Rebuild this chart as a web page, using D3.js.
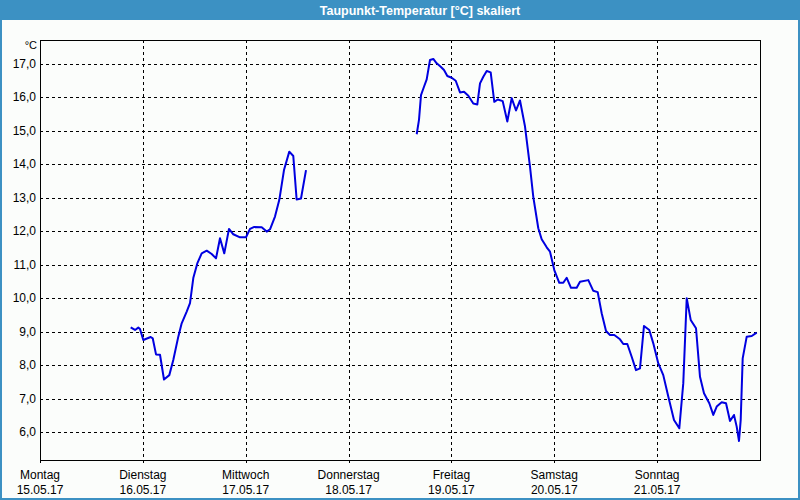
<!DOCTYPE html>
<html>
<head>
<meta charset="utf-8">
<script src="https://cdn.jsdelivr.net/npm/d3@7/dist/d3.min.js"></script>
<style>
html,body{margin:0;padding:0;background:#fbfdfb;}
svg{display:block;}
</style>
</head>
<body>
<script>
const title = "Taupunkt-Temperatur [°C] skaliert";
const unitLabel = "°C";
const dayNames = ["Montag","Dienstag","Mittwoch","Donnerstag","Freitag","Samstag","Sonntag"];
const dayDates = ["15.05.17","16.05.17","17.05.17","18.05.17","19.05.17","20.05.17","21.05.17"];
const yTicks = [6,7,8,9,10,11,12,13,14,15,16,17];
// hours since Montag 15.05.17 00:00 ; null marks a gap in the record
const hours = [21.16,22.17,22.94,23.33,24.10,25.83,26.30,27.07,28.0,28.93,30.17,31.10,32.27,33.06,34.23,35.0,35.77,36.70,37.73,38.90,40.06,41.07,42.0,43.0,44.1,45.1,46.67,48.07,49.0,50.0,51.73,52.9,53.67,54.83,55.84,56.93,58.17,59.1,59.88,60.9,62.07,
  75.0,
  87.9,88.43,88.9,89.6,90.23,91.0,91.77,92.56,93.5,94.27,95.04,96.06,97.0,98.0,98.93,99.94,101.1,102.04,102.67,103.44,104.23,105.16,106.0,106.8,107.96,109.04,110.06,111.07,112.0,113.17,114.33,115.1,116.27,117.06,118.23,119.0,120.0,121.17,122.1,122.9,123.9,125.23,126.0,127.94,129.1,130.13,131.06,132.07,133.0,134.0,135.33,136.1,137.04,138.06,139.07,140.0,140.93,142.17,143.1,144.27,145.43,146.6,147.93,149.17,150.1,150.9,151.83,153.07,154.0,154.93,156.17,157.1,157.9,159.06,160.07,161.0,161.93,162.56,163.1,163.5,163.96,164.9,166.07,167.23];
const values = [9.13,9.05,9.12,9.08,8.75,8.84,8.80,8.32,8.31,7.57,7.70,8.15,8.85,9.25,9.60,9.85,10.6,11.04,11.34,11.42,11.32,11.19,11.79,11.34,12.07,11.91,11.82,11.82,12.07,12.13,12.12,11.99,12.06,12.44,12.94,13.83,14.38,14.25,12.95,12.98,13.83,
  null,
  14.90,15.33,16.07,16.32,16.54,17.12,17.15,17.02,16.92,16.82,16.64,16.59,16.50,16.15,16.17,16.05,15.82,15.79,16.42,16.62,16.79,16.75,15.87,15.94,15.89,15.28,15.98,15.61,15.91,15.13,13.93,13.03,12.09,11.76,11.52,11.39,10.84,10.46,10.46,10.61,10.31,10.31,10.49,10.54,10.22,10.18,9.55,9.02,8.90,8.90,8.77,8.63,8.63,8.25,7.85,7.90,9.17,9.05,8.65,8.05,7.70,7.06,6.36,6.11,7.46,10.0,9.35,9.10,7.65,7.16,6.86,6.51,6.76,6.89,6.86,6.33,6.51,6.16,5.73,6.36,8.20,8.85,8.87,8.97];

const W = 800, H = 500;
const m = {left:40, top:40, right:760, bottom:460};
const svg = d3.select("body").append("svg").attr("width",W).attr("height",H);

svg.append("rect").attr("x",0).attr("y",0).attr("width",W).attr("height",H).attr("fill","#fbfdfb");
// window frame
svg.append("rect").attr("x",0).attr("y",0).attr("width",W).attr("height",20).attr("fill","#3c91c3");
svg.append("rect").attr("x",0).attr("y",0).attr("width",2).attr("height",H).attr("fill","#3c91c3");
svg.append("rect").attr("x",W-2).attr("y",0).attr("width",2).attr("height",H).attr("fill","#3c91c3");
svg.append("rect").attr("x",0).attr("y",H-2).attr("width",W).attr("height",2).attr("fill","#3c91c3");
svg.append("text").attr("x",420).attr("y",15).attr("text-anchor","middle")
  .attr("font-family","Liberation Sans, Arial, sans-serif").attr("font-weight","bold").attr("font-size",12.5)
  .attr("fill","#ffffff").text(title);

const x = d3.scaleLinear().domain([0, 168]).range([m.left, m.right]);
const y = d3.scaleLinear().domain([6 - 28/33.45, 17 + 24/33.45]).range([m.bottom, m.top]);

const font = "Liberation Sans, Arial, sans-serif";

// horizontal grid
svg.append("g").selectAll("line").data(yTicks).join("line")
  .attr("x1",m.left).attr("x2",m.right)
  .attr("y1",d=>Math.round(y(d))+0.5).attr("y2",d=>Math.round(y(d))+0.5)
  .attr("stroke","#000").attr("stroke-width",1).attr("stroke-dasharray","3,3");
// vertical grid
const dayIdx = d3.range(1,7);
svg.append("g").selectAll("line").data(dayIdx).join("line")
  .attr("x1",d=>Math.round(x(d*24))+0.5).attr("x2",d=>Math.round(x(d*24))+0.5)
  .attr("y1",m.top).attr("y2",m.bottom)
  .attr("stroke","#000").attr("stroke-width",1).attr("stroke-dasharray","3,3");
// x tick marks below axis
svg.append("g").selectAll("line").data(d3.range(0,7)).join("line")
  .attr("x1",d=>Math.round(x(d*24))+0.5).attr("x2",d=>Math.round(x(d*24))+0.5)
  .attr("y1",m.bottom).attr("y2",m.bottom+3)
  .attr("stroke","#000").attr("stroke-width",1);

// frame
svg.append("rect").attr("x",m.left+0.5).attr("y",m.top+0.5)
  .attr("width",m.right-m.left).attr("height",m.bottom-m.top)
  .attr("fill","none").attr("stroke","#000").attr("stroke-width",1);

// y labels
svg.append("g").selectAll("text").data(yTicks).join("text")
  .attr("x",36).attr("y",d=>y(d)+4).attr("text-anchor","end")
  .attr("font-family",font).attr("font-size",12).attr("fill","#000")
  .text(d=>d.toFixed(1).replace(".",","));
svg.append("text").attr("x",37).attr("y",49).attr("text-anchor","end")
  .attr("font-family",font).attr("font-size",11).attr("fill","#000").text(unitLabel);

// x labels
const xl = svg.append("g").selectAll("g").data(d3.range(0,7)).join("g");
xl.append("text").attr("x",d=>x(d*24)).attr("y",479).attr("text-anchor","middle")
  .attr("font-family",font).attr("font-size",12).attr("fill","#000").text(d=>dayNames[d]);
xl.append("text").attr("x",d=>x(d*24)).attr("y",494).attr("text-anchor","middle")
  .attr("font-family",font).attr("font-size",12).attr("fill","#000").text(d=>dayDates[d]);

// series
const pts = hours.map((h,i)=>({h, v: values[i]}));
const line = d3.line().defined(d=>d.v!==null).x(d=>x(d.h)).y(d=>y(d.v));
svg.append("path").datum(pts).attr("d",line).attr("fill","none")
  .attr("stroke","#0000e0").attr("stroke-width",2).attr("stroke-linejoin","round");
</script>
</body>
</html>
